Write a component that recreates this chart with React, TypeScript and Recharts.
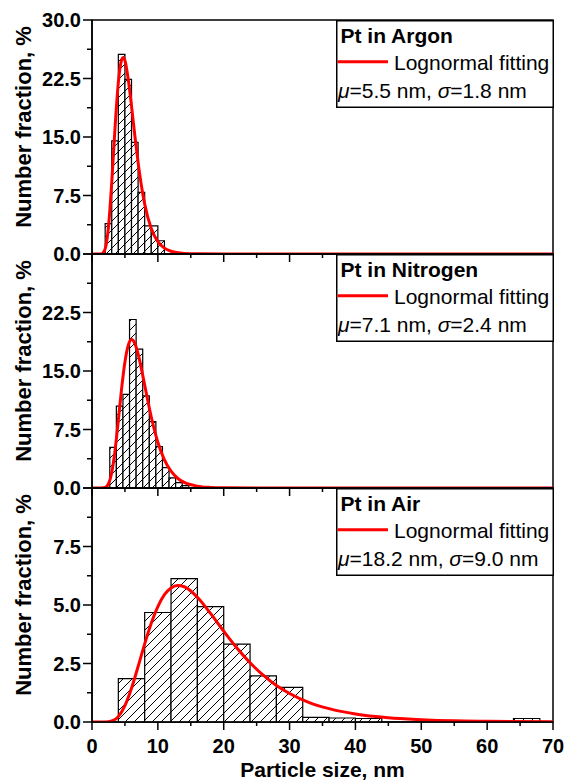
import React from 'react';
import { ComposedChart, Line, XAxis, YAxis, ReferenceArea, Legend, Label } from 'recharts';

const FONT = 'Liberation Sans, Arial, Helvetica, sans-serif';

// histogram bin edges (nm) and number fraction (% per nm) for each bin
const argonEdges = [2, 3, 4, 5, 6, 7, 8, 9, 10, 11];
const argonFraction = [3.9, 14.5, 25.6, 22.4, 14.3, 7.9, 3.6, 3.6, 1.7];

const nitrogenEdges = [2.7, 3.7, 4.7, 5.7, 6.7, 7.7, 8.7, 9.7, 10.7, 11.7, 12.7, 13.7, 14.7];
const nitrogenFraction = [5.2, 10.5, 12.0, 21.6, 17.8, 11.8, 8.5, 5.3, 2.6, 1.3, 0.7, 0.3];

const airEdges = [4, 8, 12, 16, 20, 24, 28, 32, 36, 40, 44, 48, 52, 56, 60, 64, 68];
const airFraction = [1.85, 4.68, 6.13, 4.93, 3.33, 1.97, 1.48, 0.2, 0.17, 0.15, 0, 0, 0, 0, 0, 0.15];

// lognormal fit curves, sampled along particle size
const argonFitX = [0, 1, 1.5, 2, 2.5, 3, 3.5, 4, 4.5, 4.75, 5, 5.5, 6, 6.5, 7, 7.5, 8, 9, 10, 11, 12, 14, 16, 20, 30, 70];
const argonFitY = [0, 0, 0.04, 0.67, 3.46, 9.18, 16.2, 22.0, 24.9, 25.2, 24.8, 22.4, 19.0, 15.2, 11.75, 8.79, 6.42, 3.26, 1.58, 0.75, 0.35, 0.08, 0.02, 0, 0, 0];

const nitrogenFitX = [0, 1, 1.5, 2, 2.5, 3, 3.5, 4, 4.5, 5, 5.5, 6, 6.5, 7, 7.5, 8, 9, 10, 11, 12, 13, 14, 16, 18, 20, 25, 30, 70];
const nitrogenFitY = [0, 0, 0, 0.07, 0.53, 1.99, 4.82, 8.7, 12.77, 16.15, 18.28, 19.03, 18.55, 17.2, 15.3, 13.19, 9.1, 5.86, 3.6, 2.15, 1.25, 0.72, 0.24, 0.08, 0.03, 0, 0, 0];

const airFitX = [0, 2, 3, 4, 5, 6, 7, 8, 9, 10, 11, 12, 13, 14, 15, 16, 18, 20, 22, 24, 26, 28, 30, 33, 36, 40, 45, 50, 55, 60, 70];
const airFitY = [0, 0, 0.04, 0.23, 0.7, 1.44, 2.37, 3.34, 4.22, 4.93, 5.44, 5.73, 5.83, 5.78, 5.6, 5.33, 4.64, 3.88, 3.16, 2.53, 2.0, 1.56, 1.22, 0.83, 0.57, 0.34, 0.18, 0.1, 0.05, 0.03, 0.01];

const sampleNames = ['Pt in Argon', 'Pt in Nitrogen', 'Pt in Air'];
const fitMu = [5.5, 7.1, 18.2];
const fitSigma = [1.8, 2.4, 9.0];

const xTicks = [0, 5, 10, 15, 20, 25, 30, 35, 40, 45, 50, 55, 60, 65, 70];
const yTicksWide = [0, 3.75, 7.5, 11.25, 15, 18.75, 22.5, 26.25, 30];
const yTicksAir = [0, 1.25, 2.5, 3.75, 5, 6.25, 7.5, 8.75, 10];

const toPoints = (xs: number[], ys: number[]) => xs.map((x, i) => ({ size: x, fit: ys[i] }));

const isMajor = (v: number, step: number) => Math.abs(v / step - Math.round(v / step)) < 1e-6;

const YTick = (props: any) => {
  const { x, y, payload, step, hideValue } = props;
  const v = payload.value;
  const major = isMajor(v, step);
  return (
    <g>
      <line x1={x} x2={x - (major ? 9 : 5)} y1={y} y2={y} stroke="#000" strokeWidth={1.5} />
      {major && v !== hideValue && (
        <text x={x - 11} y={y} dy="0.36em" textAnchor="end" fontFamily={FONT} fontWeight="bold" fontSize={20} fill="#000">
          {v.toFixed(1)}
        </text>
      )}
    </g>
  );
};

const XTick = (props: any) => {
  const { x, y, payload, showText } = props;
  const v = payload.value;
  const major = isMajor(v, 10);
  return (
    <g>
      <line x1={x} x2={x} y1={y} y2={y + (major ? 8 : 4)} stroke="#000" strokeWidth={1.5} />
      {major && showText && (
        <text x={x} y={y + 31} textAnchor="middle" fontFamily={FONT} fontWeight="bold" fontSize={20} fill="#000">
          {v}
        </text>
      )}
    </g>
  );
};

const LegendBox = ({ title, mu, sigma }: { title: string; mu: number; sigma: number }) => (
  <svg width={218} height={88} style={{ display: 'block' }}>
    <rect x={0.75} y={0.75} width={216.5} height={86.5} fill="#fff" stroke="#000" strokeWidth={1.5} />
    <text x={4.5} y={22.5} fontFamily={FONT} fontWeight="bold" fontSize={21} fill="#000">
      {title}
    </text>
    <line x1={1.5} x2={52} y1={41.7} y2={41.7} stroke="#ff0000" strokeWidth={3} />
    <text x={58} y={49.5} fontFamily={FONT} fontSize={21} fill="#000">
      Lognormal fitting
    </text>
    <text x={2} y={77.5} fontFamily={FONT} fontSize={21} fill="#000">
      <tspan fontStyle="italic">μ</tspan>={mu.toFixed(1)} nm, <tspan fontStyle="italic">σ</tspan>={sigma.toFixed(1)} nm
    </text>
  </svg>
);

type PanelProps = {
  idx: number;
  top: number;
  height: number;
  marginTop: number;
  xAxisHeight: number;
  edges: number[];
  fraction: number[];
  fitX: number[];
  fitY: number[];
  yMax: number;
  yTicks: number[];
  yStep: number;
  hideTopValue?: number;
  bottom?: boolean;
};

const Panel = (p: PanelProps) => {
  const hatchId = `hatch-${p.idx}`;
  const bins = p.fraction
    .map((h, i) => ({ x1: p.edges[i], x2: p.edges[i + 1], h }))
    .filter((b) => b.h > 0);
  return (
    <div style={{ position: 'absolute', left: 0, top: p.top }}>
      <ComposedChart
        width={566}
        height={p.height}
        data={toPoints(p.fitX, p.fitY)}
        margin={{ top: p.marginTop, right: 13, bottom: 0, left: 0 }}
      >
        <defs>
          <pattern id={hatchId} patternUnits="userSpaceOnUse" width={9} height={9}>
            <rect width={9} height={9} fill="#fff" />
            <path d="M0,9 L9,0 M-2,2 L2,-2 M7,11 L11,7" stroke="#000" strokeWidth={1} />
          </pattern>
        </defs>
        <XAxis
          dataKey="size"
          type="number"
          domain={[0, 70]}
          ticks={xTicks}
          interval={0}
          height={p.xAxisHeight}
          axisLine={{ stroke: '#000', strokeWidth: 1.5 }}
          tickLine={false}
          tickSize={0}
          tickMargin={0}
          tick={(t: any) => <XTick {...t} showText={!!p.bottom} />}
        >
          {p.bottom && (
            <Label
              content={(lp: any) => {
                const vb = lp.viewBox;
                return (
                  <text
                    x={vb.x + vb.width / 2}
                    y={vb.y + 55}
                    textAnchor="middle"
                    fontFamily={FONT}
                    fontWeight="bold"
                    fontSize={21}
                    fill="#000"
                  >
                    Particle size, nm
                  </text>
                );
              }}
            />
          )}
        </XAxis>
        <YAxis
          type="number"
          domain={[0, p.yMax]}
          allowDataOverflow
          ticks={p.yTicks}
          interval={0}
          width={92}
          axisLine={{ stroke: '#000', strokeWidth: 1.5 }}
          tickLine={false}
          tickSize={0}
          tickMargin={0}
          tick={(t: any) => <YTick {...t} step={p.yStep} hideValue={p.hideTopValue} />}
        >
          <Label
            content={(lp: any) => {
              const vb = lp.viewBox;
              const cy = vb.y + vb.height / 2 - 10;
              return (
                <text
                  x={23}
                  y={cy}
                  transform={`rotate(-90 23 ${cy})`}
                  textAnchor="middle"
                  dominantBaseline="central"
                  fontFamily={FONT}
                  fontWeight="bold"
                  fontSize={22}
                  fill="#000"
                >
                  Number fraction, %
                </text>
              );
            }}
          />
        </YAxis>
        {/* frame around the plot area */}
        <ReferenceArea x1={0} x2={70} y1={0} y2={p.yMax} fill="none" stroke="#000" strokeWidth={1.5} />
        {bins.map((b, i) => (
          <ReferenceArea
            key={i}
            x1={b.x1}
            x2={b.x2}
            y1={0}
            y2={b.h}
            fill={`url(#${hatchId})`}
            fillOpacity={1}
            stroke="#000"
            strokeWidth={1.2}
          />
        ))}
        <Line
          dataKey="fit"
          type="monotone"
          stroke="#ff0000"
          strokeWidth={3}
          dot={false}
          activeDot={false}
          isAnimationActive={false}
        />
        <Legend
          layout="horizontal"
          verticalAlign="middle"
          align="center"
          wrapperStyle={{ left: 336, top: p.marginTop, width: 218, height: 88 }}
          content={() => <LegendBox title={sampleNames[p.idx]} mu={fitMu[p.idx]} sigma={fitSigma[p.idx]} />}
        />
      </ComposedChart>
    </div>
  );
};

export default function App() {
  return (
    <div style={{ position: 'absolute', left: 0, top: 0, width: 566, height: 782, background: '#fff' }}>
      <Panel
        idx={0}
        top={0}
        height={264}
        marginTop={20}
        xAxisHeight={10}
        edges={argonEdges}
        fraction={argonFraction}
        fitX={argonFitX}
        fitY={argonFitY}
        yMax={30}
        yTicks={yTicksWide}
        yStep={7.5}
      />
      <Panel
        idx={1}
        top={244}
        height={254}
        marginTop={10}
        xAxisHeight={10}
        edges={nitrogenEdges}
        fraction={nitrogenFraction}
        fitX={nitrogenFitX}
        fitY={nitrogenFitY}
        yMax={30}
        yTicks={yTicksWide}
        yStep={7.5}
        hideTopValue={30}
      />
      <Panel
        idx={2}
        top={478}
        height={304}
        marginTop={10}
        xAxisHeight={60}
        edges={airEdges}
        fraction={airFraction}
        fitX={airFitX}
        fitY={airFitY}
        yMax={10}
        yTicks={yTicksAir}
        yStep={2.5}
        hideTopValue={10}
        bottom
      />
    </div>
  );
}
